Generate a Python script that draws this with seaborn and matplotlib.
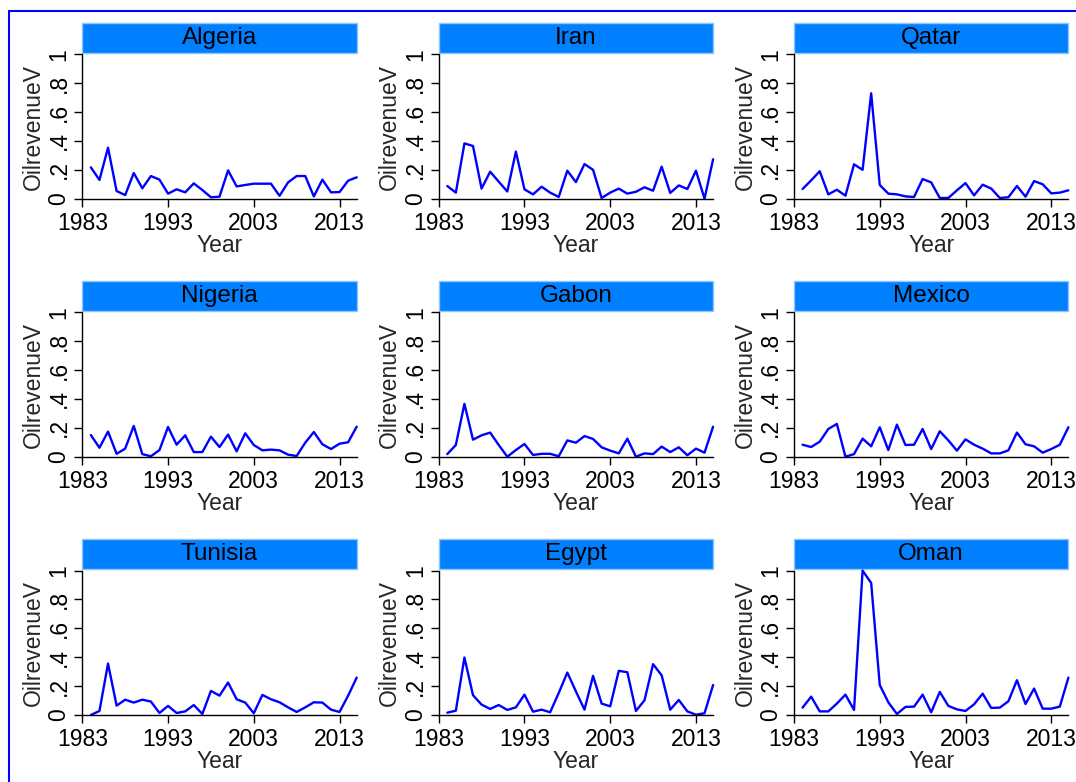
import numpy as np
import pandas as pd
import matplotlib
matplotlib.use("Agg")
import matplotlib.pyplot as plt
from matplotlib.patches import Rectangle
import seaborn as sns

years = list(range(1984, 2016))
countries = ["Algeria", "Iran", "Qatar", "Nigeria", "Gabon", "Mexico", "Tunisia", "Egypt", "Oman"]

algeria = [0.217, 0.13, 0.353, 0.053, 0.025, 0.178, 0.072, 0.157, 0.132, 0.035, 0.065, 0.044,
           0.106, 0.06, 0.01, 0.014, 0.196, 0.085, 0.095, 0.104, 0.104, 0.104, 0.02, 0.113,
           0.157, 0.157, 0.016, 0.132, 0.044, 0.046, 0.125, 0.148]
iran = [0.088, 0.042, 0.383, 0.365, 0.07, 0.187, 0.118, 0.05, 0.326, 0.065, 0.03, 0.083,
        0.042, 0.012, 0.194, 0.115, 0.24, 0.2, 0.005, 0.042, 0.07, 0.035, 0.048, 0.079,
        0.055, 0.222, 0.04, 0.092, 0.067, 0.194, 0.0, 0.273]
qatar = [0.067, 0.127, 0.19, 0.03, 0.062, 0.021, 0.238, 0.2, 0.73, 0.095, 0.035, 0.03,
         0.016, 0.012, 0.136, 0.113, 0.005, 0.005, 0.058, 0.108, 0.023, 0.097, 0.07, 0.005,
         0.01, 0.088, 0.014, 0.122, 0.1, 0.037, 0.042, 0.058]
nigeria = [0.15, 0.062, 0.174, 0.02, 0.056, 0.213, 0.018, 0.003, 0.046, 0.206, 0.083, 0.148,
           0.032, 0.032, 0.139, 0.067, 0.153, 0.037, 0.162, 0.081, 0.044, 0.049, 0.044, 0.014,
           0.005, 0.097, 0.171, 0.086, 0.053, 0.09, 0.1, 0.208]
gabon = [0.018, 0.081, 0.366, 0.118, 0.148, 0.167, 0.081, 0.0, 0.046, 0.088, 0.012, 0.02,
         0.02, 0.003, 0.113, 0.097, 0.143, 0.123, 0.065, 0.042, 0.023, 0.125, 0.0, 0.023,
         0.018, 0.07, 0.032, 0.065, 0.01, 0.056, 0.028, 0.208]
mexico = [0.083, 0.067, 0.104, 0.192, 0.227, 0.0, 0.018, 0.125, 0.072, 0.204, 0.046, 0.222,
          0.081, 0.083, 0.192, 0.053, 0.176, 0.113, 0.042, 0.12, 0.083, 0.056, 0.023, 0.023,
          0.044, 0.167, 0.086, 0.072, 0.028, 0.053, 0.083, 0.204]
tunisia = [0.0, 0.028, 0.356, 0.065, 0.106, 0.086, 0.106, 0.093, 0.014, 0.063, 0.014, 0.025,
           0.069, 0.007, 0.167, 0.134, 0.225, 0.109, 0.086, 0.012, 0.139, 0.109, 0.088, 0.053,
           0.021, 0.053, 0.088, 0.086, 0.037, 0.021, 0.134, 0.259]
egypt = [0.016, 0.03, 0.398, 0.137, 0.072, 0.042, 0.069, 0.035, 0.053, 0.141, 0.023, 0.037,
         0.019, 0.153, 0.294, 0.164, 0.037, 0.271, 0.079, 0.06, 0.306, 0.296, 0.028, 0.102,
         0.352, 0.275, 0.037, 0.104, 0.025, 0.002, 0.012, 0.208]
oman = [0.051, 0.127, 0.025, 0.025, 0.079, 0.141, 0.035, 1.0, 0.914, 0.208, 0.088, 0.007,
        0.056, 0.058, 0.141, 0.019, 0.16, 0.063, 0.039, 0.028, 0.074, 0.148, 0.049, 0.051,
        0.095, 0.241, 0.076, 0.183, 0.044, 0.044, 0.058, 0.259]

series = [algeria, iran, qatar, nigeria, gabon, mexico, tunisia, egypt, oman]
xticks = [1983, 1993, 2003, 2013]
yticks = [0, 0.2, 0.4, 0.6, 0.8, 1.0]
yticklabels = ["0", ".2", ".4", ".6", ".8", "1"]

df = pd.concat([pd.DataFrame({"Year": years, "OilrevenueV": v, "country": c})
                for c, v in zip(countries, series)], ignore_index=True)

sns.set_theme(style="ticks")
plt.rcParams["font.family"] = ["Liberation Sans", "DejaVu Sans"]

W, H = 1076, 782
fig = plt.figure(figsize=(W / 100, H / 100), dpi=100)
fig.patch.set_facecolor("white")

# outer blue frame (cut at right/bottom like the reference)
fig.patches.append(Rectangle((8.5 / W, -0.05), 1.2, 1 - 11 / H + 0.05, transform=fig.transFigure,
                             fill=False, edgecolor="#0000ff", linewidth=1.5, zorder=0))

lefts = [82.3, 438.7, 794.0]
bottoms = [198.7, 456.7, 715.0]
aw, ah = 274.4, 144.4
FS = 16.5

for i, c in enumerate(countries):
    r, col = divmod(i, 3)
    ax = fig.add_axes([lefts[col] / W, 1 - bottoms[r] / H, aw / W, ah / H])
    sub = df[df["country"] == c]
    sns.lineplot(data=sub, x="Year", y="OilrevenueV", ax=ax, color="#0000ff", linewidth=1.7)
    for ln in ax.lines:
        ln.set_clip_on(False)
    ax.set_xlim(1983, 2015)
    ax.set_ylim(0, 1)
    ax.set_xticks(xticks)
    ax.set_xticklabels([str(t) for t in xticks], fontsize=FS)
    ax.set_yticks(yticks)
    ax.set_yticklabels(yticklabels, fontsize=FS, rotation=90, va="center")
    ax.tick_params(axis="both", direction="out", length=6, width=1, colors="black")
    ax.tick_params(axis="x", pad=3.5)
    ax.tick_params(axis="y", pad=2.5)
    sns.despine(ax=ax)
    for s in ["left", "bottom"]:
        ax.spines[s].set_linewidth(1)
        ax.spines[s].set_color("black")
    ax.set_xlabel("Year", fontsize=FS, labelpad=-1)
    ax.set_ylabel("OilrevenueV", fontsize=FS, labelpad=2)
    ax.set_facecolor("white")
    ax.add_patch(Rectangle((0, 1.011), 1, 0.208, transform=ax.transAxes, clip_on=False,
                           facecolor="#0080ff", edgecolor="#8cc6ff", linewidth=1))
    ax.text(0.5, 1.115, c, transform=ax.transAxes, ha="center", va="center", fontsize=17.5,
            color="black")

fig.savefig("out.png", dpi=100, facecolor="white")
